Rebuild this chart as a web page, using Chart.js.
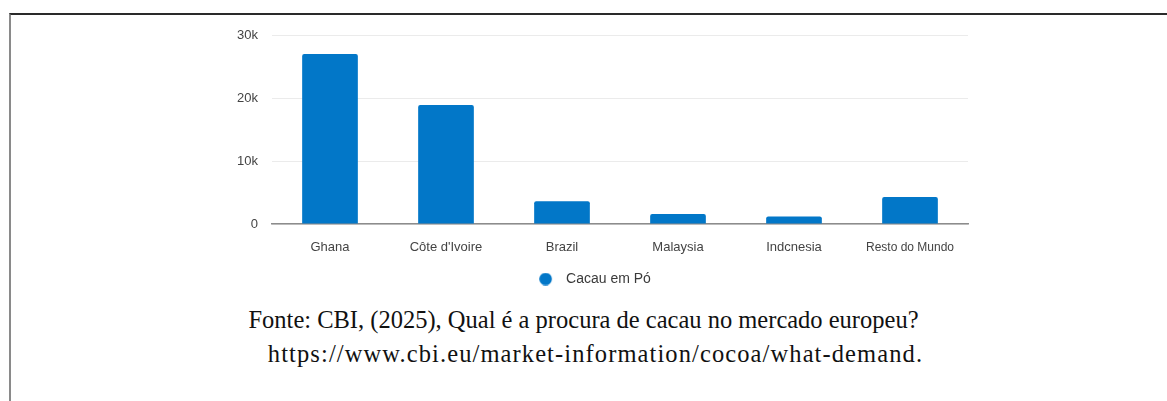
<!DOCTYPE html>
<html>
<head>
<meta charset="utf-8">
<script src="https://cdn.jsdelivr.net/npm/chart.js@4"></script>
<style>
    body { margin: 0; background: #fff; }
    #frame {
        position: absolute; left: 9px; top: 13px; width: 1158px; height: 388px;
        border-top: 2px solid #2a2a2a; border-left: 2px solid #8a8a8a;
    }
    #wrap { position: absolute; left: 0; top: 0; width: 1167px; height: 300px; }
    #caption {
        position: absolute; left: 0; top: 303px; width: 1167px; text-align: center;
        font-family: "Liberation Serif", "DejaVu Serif", serif; font-size: 24.5px;
        line-height: 34px; color: #111;
    }
    #caption .url { letter-spacing: 1.1px; padding-left: 24px; }
</style>
</head>
<body>
<div id="frame"></div>
<div id="wrap"><canvas id="canvas"></canvas></div>
<div id="caption">
    <span>Fonte: CBI, (2025), Qual é a procura de cacau no mercado europeu?</span><br>
    <span class="url">https://www.cbi.eu/market-information/cocoa/what-demand.</span>
</div>
<script>
const labels = ['Ghana', 'Côte d\'Ivoire', 'Brazil', 'Malaysia', 'Indcnesia', 'Resto do Mundo'];
const valores = [27000, 18900, 3600, 1600, 1200, 4300];
const yTicks = [0, 10000, 20000, 30000];

const corBarra = '#0277c8';

// legend marker: a circle at the left of a wider box, to leave a gap before the text
const marker = document.createElement('canvas');
marker.width = 20;
marker.height = 13;
const mctx = marker.getContext('2d');
mctx.fillStyle = corBarra;
mctx.beginPath();
mctx.arc(6.5, 6.5, 6.3, 0, Math.PI * 2);
mctx.fill();

const data = {
    labels: labels,
    datasets: [{
        label: 'Cacau em Pó',
        backgroundColor: corBarra,
        borderColor: corBarra,
        borderRadius: 2,
        borderSkipped: 'bottom',
        barPercentage: 0.6,
        categoryPercentage: 0.8,
        pointStyle: marker,
        data: valores
    }]
};

const config = {
    type: 'bar',
    data: data,
    options: {
        responsive: true,
        maintainAspectRatio: false,
        animation: false,
        layout: { padding: { left: 222, right: 199, top: 35, bottom: 4 } },
        plugins: {
            legend: {
                position: 'bottom',
                labels: {
                    usePointStyle: true,
                    pointStyleWidth: 20,
                    boxHeight: 13,
                    padding: 10,
                    color: '#3a3a3a',
                    font: { family: 'Liberation Sans, Arial', size: 14 }
                }
            },
            tooltip: { enabled: false }
        },
        scales: {
            x: {
                grid: { display: false },
                border: { color: '#8c8c8c', width: 1.5 },
                ticks: {
                    color: '#444',
                    padding: 8,
                    maxRotation: 0,
                    font: (c) => ({ family: 'Liberation Sans, Arial', size: c.index === 5 ? 12 : 13 })
                },
                afterFit: (s) => { s.height = 38; }
            },
            y: {
                min: 0,
                max: 30000,
                afterBuildTicks: (s) => { s.ticks = yTicks.map(v => ({ value: v })); },
                grid: { color: '#ebebeb', drawTicks: false },
                border: { display: false },
                ticks: {
                    color: '#444',
                    padding: 14,
                    font: { family: 'Liberation Sans, Arial', size: 13 },
                    callback: (v) => v === 0 ? '0' : (v / 1000) + 'k'
                },
                afterFit: (s) => { s.width = 50; }
            }
        }
    }
};

const myChart = new Chart(document.querySelector('#canvas'), config);
</script>
</body>
</html>
